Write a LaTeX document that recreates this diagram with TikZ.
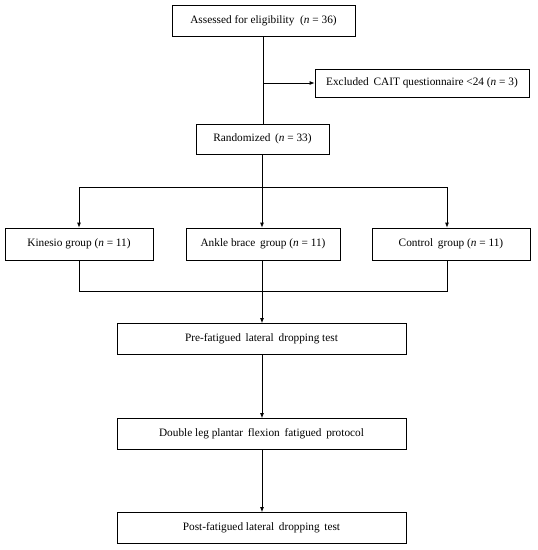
\documentclass[tikz,border=0pt]{standalone}
\usepackage{fontspec}
\setmainfont{Liberation Serif}
\usetikzlibrary{arrows.meta}
\begin{document}
\begin{tikzpicture}[x=1pt,y=-1pt,
  box/.style={draw,line width=0.8pt,inner sep=0pt,font=\fontsize{11.3}{13}\selectfont,anchor=center},
  conn/.style={line width=0.8pt},
  arr/.style={conn,-{Latex[length=5pt,width=4pt]}}]
\useasboundingbox (0,0) rectangle (538,550);
\node[box,minimum width=183pt,minimum height=31pt] (assess) at (263.5,20.5) {Assessed for eligibility\enspace(\textit{n} = 36)};
\node[box,minimum width=214pt,minimum height=28pt] (excl) at (422,83) {Excluded\, CAIT questionnaire <24 (\textit{n} = 3)};
\node[box,minimum width=133pt,minimum height=30pt] (rand) at (262.5,139) {Randomized\, (\textit{n} = 33)};
\node[box,minimum width=148pt,minimum height=32pt] (kin) at (79,244) {Kinesio group (\textit{n} = 11)};
\node[box,minimum width=154pt,minimum height=32pt] (ank) at (263,244) {Ankle brace\, group (\textit{n} = 11)};
\node[box,minimum width=158pt,minimum height=32pt] (ctl) at (451,244) {Control\, group (\textit{n} = 11)};
\node[box,minimum width=289pt,minimum height=31pt] (pre) at (261.5,339) {Pre-fatigued\, lateral\, dropping test};
\node[box,minimum width=289pt,minimum height=31pt] (dbl) at (261.5,434) {Double leg plantar\, flexion\, fatigued\, protocol};
\node[box,minimum width=289pt,minimum height=31pt] (post) at (261.5,528) {Post-fatigued lateral\, dropping\, test};
\coordinate (j1) at (263,83);
\coordinate (j2) at (262,187);
\coordinate (jl) at (79,187);
\coordinate (jr) at (447,187);
\coordinate (j3) at (262,291);
\coordinate (bl) at (79,291);
\coordinate (br) at (447,291);
\draw[conn] (assess.south -| j1) -- (rand.north -| j1);
\draw[arr] (j1) -- (excl.west);
\draw[conn] (rand.south -| j2) -- (j2);
\draw[conn] (jl) -- (jr);
\draw[arr] (jl) -- (kin.north -| jl);
\draw[arr] (j2) -- (ank.north -| j2);
\draw[arr] (jr) -- (ctl.north -| jr);
\draw[conn] (kin.south -| bl) -- (bl) -- (br) -- (ctl.south -| br);
\draw[conn] (ank.south -| j3) -- (j3);
\draw[arr] (j3) -- (pre.north -| j3);
\draw[arr] (pre.south -| j3) -- (dbl.north -| j3);
\draw[arr] (dbl.south -| j3) -- (post.north -| j3);
\end{tikzpicture}
\end{document}
